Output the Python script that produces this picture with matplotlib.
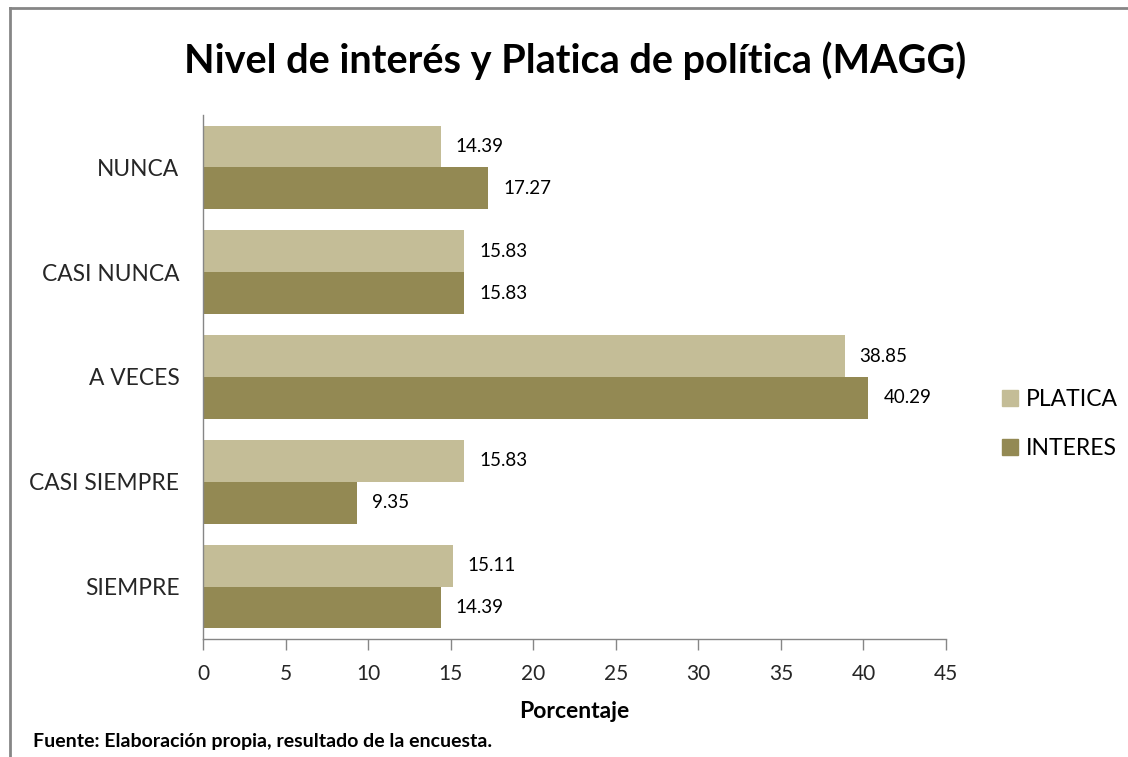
import numpy as np
import matplotlib
matplotlib.use('Agg')
import matplotlib.pyplot as plt
from matplotlib.patches import Patch
from matplotlib.lines import Line2D

plt.rcParams['font.family'] = ['Lato', 'DejaVu Sans']

# datos
categorias = ['NUNCA', 'CASI NUNCA', 'A VECES', 'CASI SIEMPRE', 'SIEMPRE']
platica = [14.39, 15.83, 38.85, 15.83, 15.11]
interes = [17.27, 15.83, 40.29, 9.35, 14.39]
xticks = [0, 5, 10, 15, 20, 25, 30, 35, 40, 45]

col_platica = '#C4BD97'
col_interes = '#938953'
gris = '#868686'

fig = plt.figure(figsize=(11.28, 7.57), dpi=100)
ax = fig.add_axes([0.18, 0.156, 0.6587, 0.692])

y = np.arange(len(categorias))[::-1]  # NUNCA arriba
h = 0.4
b1 = ax.barh(y + h/2, platica, height=h, color=col_platica, label='PLATICA')
b2 = ax.barh(y - h/2, interes, height=h, color=col_interes, label='INTERES')

for barras in (b1, b2):
    for b in barras:
        w = b.get_width()
        ax.annotate('%.2f' % w, (w, b.get_y() + b.get_height()/2),
                    xytext=(15, 0), textcoords='offset pixels',
                    va='center', ha='left', fontsize=13.5, color='black')

ax.set_xlim(0, 45)
ax.set_ylim(-0.5, 4.5)
ax.set_xticks(xticks)
ax.set_xticklabels([str(t) for t in xticks], fontsize=15, color='#262626')
ax.set_yticks(y)
ax.set_yticklabels(categorias, fontsize=16.4, color='#262626')
ax.tick_params(axis='x', direction='out', length=8, width=1, color=gris, pad=10)
ax.tick_params(axis='y', length=0, pad=17)
for s in ('top', 'right'):
    ax.spines[s].set_visible(False)
for s in ('left', 'bottom'):
    ax.spines[s].set_color(gris)
    ax.spines[s].set_linewidth(1)

ax.set_xlabel('Porcentaje', fontsize=16.5, fontweight='bold', labelpad=12)

fig.text(0.51, 0.92, 'Nivel de interés y Platica de política (MAGG)',
         ha='center', va='center', fontsize=28.5, fontweight='bold')
fig.text(0.029, 0.02, 'Fuente: Elaboración propia, resultado de la encuesta.',
         ha='left', va='center', fontsize=14, fontweight='bold')

handles = [Patch(color=col_platica), Patch(color=col_interes)]
leg = fig.legend(handles, ['PLATICA', 'INTERES'], loc='center left',
                 bbox_to_anchor=(0.87, 0.44), frameon=False, fontsize=16.5,
                 handlelength=0.7, handleheight=0.7, handletextpad=0.35,
                 labelspacing=1.2)

# marco
fig.add_artist(Line2D([0.009, 0.009], [0.0, 0.989], color=gris, lw=2))
fig.add_artist(Line2D([0.009, 1.0], [0.989, 0.989], color=gris, lw=2))

fig.savefig('out.png', dpi=100)
